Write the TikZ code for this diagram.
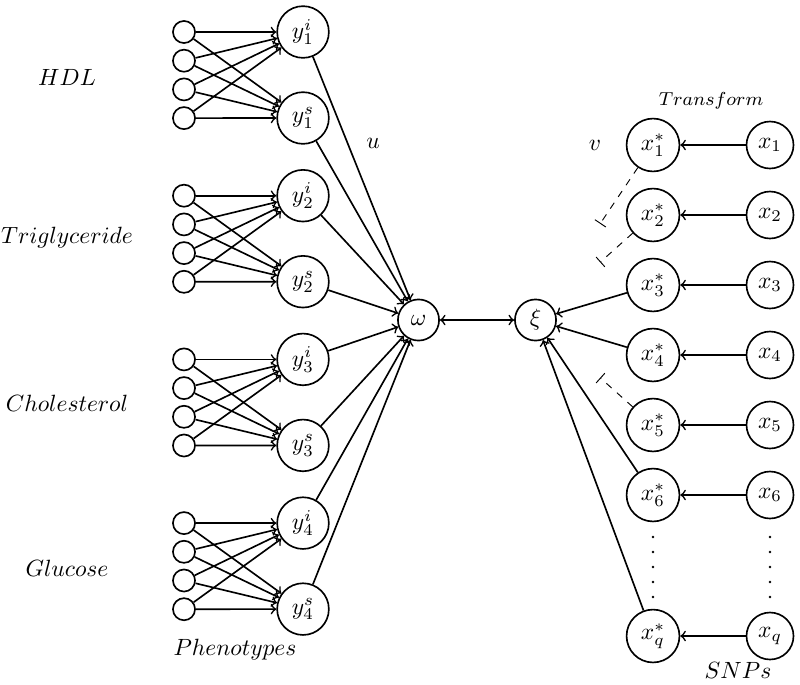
\documentclass[tikz,border=0pt]{standalone}
\usetikzlibrary{calc}
\begin{document}
\begin{tikzpicture}[x=0.4255pt,y=-0.4255pt,line width=0.7pt,
  small/.style={circle,draw,minimum size=9.4pt,inner sep=0pt},
  ynode/.style={circle,draw,minimum size=22pt,inner sep=0pt},
  hub/.style={circle,draw,minimum size=17.5pt,inner sep=0pt},
  xsnode/.style={circle,draw,minimum size=22.5pt,inner sep=0pt},
  xnode/.style={circle,draw,minimum size=20pt,inner sep=0pt},
  lab/.style={inner sep=1pt},
  dashlink/.style={dashed,line width=0.4pt,-|},
  dotmark/.style={fill=black}]
\useasboundingbox (0,0) rectangle (800,684);
\foreach \g in {1,2,3,4} {
  \pgfmathsetmacro{\yb}{32+(\g-1)*163.7}
  \foreach \k in {1,...,4} {
    \node[small] (c\g\k) at (184,{\yb+(\k-1)*28.7}) {};
  }
  \node[ynode] (yi\g) at (303,\yb) {$y_{\g}^{i}$};
  \node[ynode] (ys\g) at (303,{\yb+86}) {$y_{\g}^{s}$};
  \foreach \k in {1,...,4} {
    \draw[->] (c\g\k) -- (yi\g);
    \draw[->] (c\g\k) -- (ys\g);
  }
}
\node[lab] (lhdl) at (67,77) {$HDL$};
\node[lab] (ltri) at (67,238) {$Triglyceride$};
\node[lab] (lcho) at (67,403) {$Cholesterol$};
\node[lab] (lglu) at (67,568) {$Glucose$};
\node[lab] (lphe) at (235,650) {$Phenotypes$};
\node[lab] (lu) at (373,143) {$u$};
\node[lab] (lv) at (595,145) {$v$};
\node[lab] (ltr) at (711,101) {\footnotesize $Transform$};
\node[lab] (lsnp) at (738,670) {$SNPs$};

\node[hub] (om) at (418.5,320) {$\omega$};
\node[hub] (xi) at (535.5,320) {$\xi$};
\draw[<->] (om) -- (xi);
\foreach \g in {1,2,3,4} {
  \draw[->] (yi\g) -- (om);
  \draw[->] (ys\g) -- (om);
}

\foreach \i/\yy in {1/145,2/215,3/285,4/355,5/425,6/495,q/636} {
  \node[xsnode] (xs\i) at (653,\yy) {$x_{\i}^{*}$};
  \node[xnode] (x\i) at (770,\yy) {$x_{\i}$};
  \draw[->] (x\i) -- (xs\i);
}
\foreach \i in {3,4,6,q} {
  \draw[->] (xs\i) -- (xi);
}
\foreach \i in {1,2,5} {
  \coordinate (d\i) at ($(xs\i)!0.45!(xi)$);
  \draw[dashlink] (xs\i) -- (d\i);
}
\foreach \k in {0,...,4} {
  \fill[dotmark] (653,{537+15*\k}) circle (0.55pt);
  \fill[dotmark] (770,{537+15*\k}) circle (0.55pt);
}
\end{tikzpicture}
\end{document}
